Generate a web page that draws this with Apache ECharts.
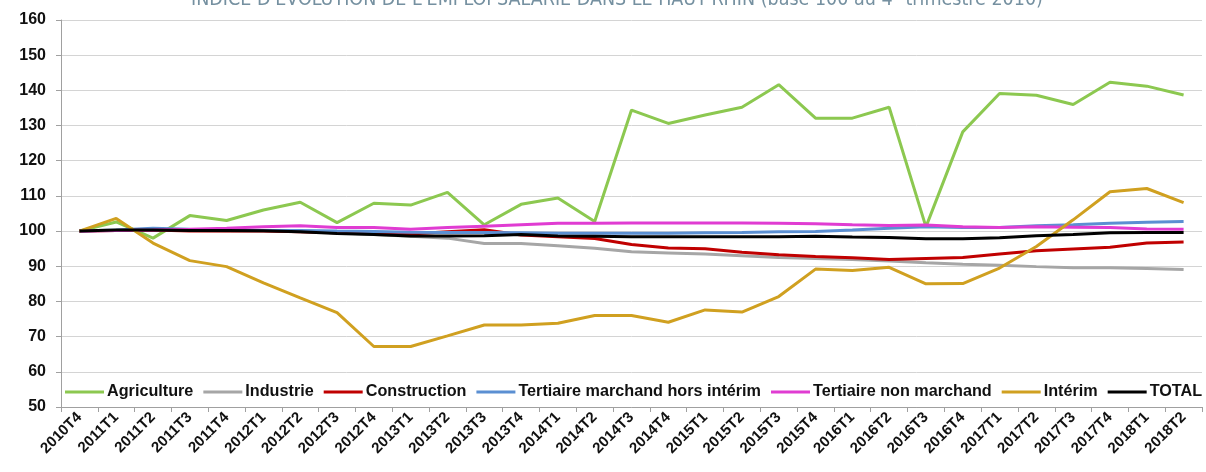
<!DOCTYPE html>
<html>
<head>
<meta charset="utf-8">
<script src="https://cdn.jsdelivr.net/npm/echarts@6/dist/echarts.min.js"></script>
<style>
html,body{margin:0;padding:0;background:#fff;}
#chart{width:1206px;height:472px;}
</style>
</head>
<body>
<div id="chart"></div>
<script>
const categories = ['2010T4','2011T1','2011T2','2011T3','2011T4','2012T1','2012T2','2012T3','2012T4','2013T1','2013T2','2013T3','2013T4','2014T1','2014T2','2014T3','2014T4','2015T1','2015T2','2015T3','2015T4','2016T1','2016T2','2016T3','2016T4','2017T1','2017T2','2017T3','2017T4','2018T1','2018T2'];

const agriculture = [100,102.6,98,104.4,103,106,108.2,102.4,107.9,107.4,111,101.8,107.6,109.4,102.7,134.4,130.6,133,135.2,141.6,132.1,132.1,135.2,101.2,128.2,139.1,138.6,136,142.3,141.2,138.7];
const industrie = [100,100.2,100.3,100.2,100,100,99.8,99.5,99,98.5,98,96.5,96.5,95.8,95.1,94.1,93.8,93.5,93,92.5,92.2,91.9,91.5,91,90.6,90.3,89.9,89.6,89.6,89.4,89.1];
const construction = [100,100.2,100.3,100,100,100,99.8,99.5,99.4,99.2,99.8,100.4,98.9,98.4,97.9,96.2,95.2,95,94,93.3,92.8,92.4,91.9,92.2,92.5,93.5,94.4,94.9,95.4,96.6,96.9];
const tertiaireMarchand = [100,100.3,100.8,100.5,100.3,100.2,100.2,100,99.9,99.7,99.6,99.6,99.5,99.4,99.4,99.4,99.4,99.5,99.6,99.8,99.9,100.3,100.8,101.2,101,101,101.5,101.8,102.2,102.5,102.7];
const tertiaireNonMarchand = [100,100.2,100.3,100.5,100.8,101.2,101.5,101,101,100.5,101,101.4,101.8,102.2,102.2,102.3,102.3,102.3,102.3,102.2,102.1,101.8,101.6,101.7,101.2,101,101.2,101.1,101,100.6,100.5];
const interim = [100,103.6,96.6,91.6,89.9,85.3,81,76.8,67.2,67.2,70.2,73.3,73.3,73.8,76,76,74.1,77.6,77,81.4,89.2,88.8,89.7,85,85.1,89.5,95.6,103.2,111.2,112.1,108.1];
const total = [100,100.3,100.3,100.2,100.2,100.1,99.8,99.3,99,98.6,98.6,98.7,99,98.6,98.5,98.4,98.4,98.4,98.4,98.4,98.5,98.3,98.2,97.8,97.8,98.1,98.7,99,99.5,99.6,99.6];

const yTicks = {min:50, max:160, interval:10};

const seriesDefs = [
  {name:'Agriculture', data:agriculture, color:'#8cc850'},
  {name:'Industrie', data:industrie, color:'#a6a6a6'},
  {name:'Construction', data:construction, color:'#c00000'},
  {name:'Tertiaire marchand hors intérim', data:tertiaireMarchand, color:'#5b8fd2'},
  {name:'Tertiaire non marchand', data:tertiaireNonMarchand, color:'#e03cd2'},
  {name:'Intérim', data:interim, color:'#d0a020'},
  {name:'TOTAL', data:total, color:'#000000'}
];

const chart = echarts.init(document.getElementById('chart'), null, {renderer:'canvas'});
chart.setOption({
  animation:false,
  backgroundColor:'#ffffff',
  title:{
    text:"INDICE D'ÉVOLUTION DE L'EMPLOI SALARIÉ DANS LE HAUT-RHIN (base 100 au 4ᵉ trimestre 2010)",
    left:612, top:-15, textAlign:'center',
    textStyle:{color:'#7590a0', fontSize:19.5, fontWeight:'normal', fontFamily:'"Liberation Sans Narrow","DejaVu Sans Condensed",sans-serif'}
  },
  legend:{
    left:65, right:0, top:379, padding:[5,0,5,0],
    itemWidth:39, itemHeight:3, itemGap:10,
    icon:'rect',
    textStyle:{fontSize:16.2, fontWeight:'bold', color:'#111', fontFamily:'"Liberation Sans",Arial,sans-serif', padding:[0,0,0,-2]},
    data:seriesDefs.map(s=>s.name)
  },
  grid:{left:61, right:4, top:20, bottom:65, containLabel:false},
  xAxis:{
    type:'category', data:categories, boundaryGap:true,
    axisLine:{lineStyle:{color:'#a0a0a0', width:1}},
    axisTick:{show:true, length:5, lineStyle:{color:'#a0a0a0'}},
    axisLabel:{interval:0, rotate:45, fontSize:15, fontWeight:'bold', color:'#111', fontFamily:'"Liberation Sans",Arial,sans-serif', margin:8}
  },
  yAxis:{
    type:'value', min:yTicks.min, max:yTicks.max, interval:yTicks.interval,
    axisLine:{show:true, lineStyle:{color:'#a0a0a0'}},
    axisTick:{show:true, length:5, lineStyle:{color:'#a0a0a0'}},
    splitLine:{lineStyle:{color:'#d4d4d4', width:1}},
    axisLabel:{fontSize:16, fontWeight:'bold', color:'#111', fontFamily:'"Liberation Sans",Arial,sans-serif', margin:15}
  },
  series:seriesDefs.map(s=>({
    name:s.name, type:'line', data:s.data, symbol:'none', smooth:false,
    lineStyle:{color:s.color, width:3}, itemStyle:{color:s.color}
  }))
});
</script>
</body>
</html>
